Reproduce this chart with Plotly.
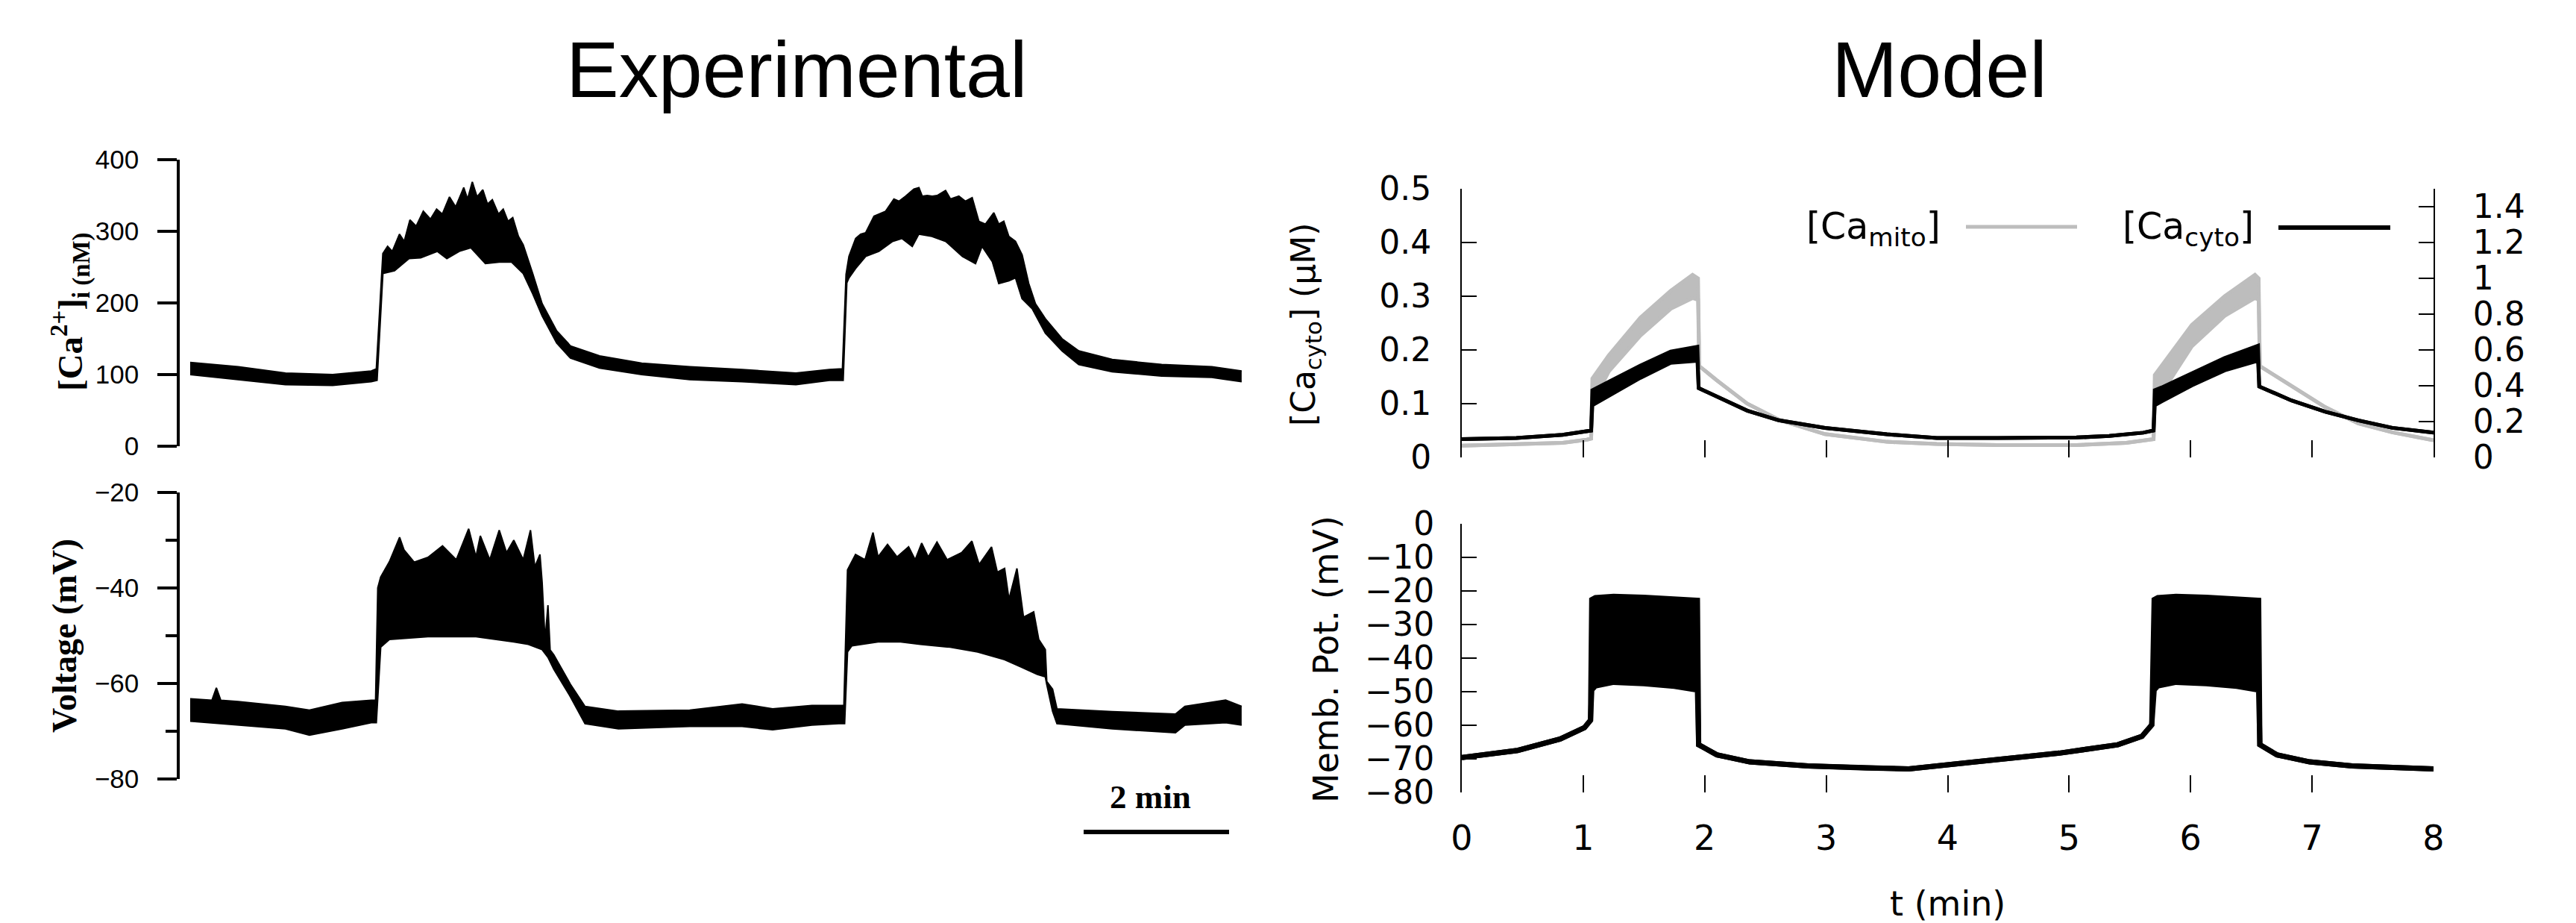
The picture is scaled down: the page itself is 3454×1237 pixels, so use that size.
import plotly.graph_objects as go

W, H = 3454, 1237

# ---------------- Experimental data (time in min) ----------------
ce_t_up = [0, 0.66, 1.31, 1.96, 2.49, 2.56,
           2.65, 2.715, 2.78, 2.878, 2.944, 3.022, 3.108, 3.206, 3.304, 3.389, 3.468, 3.566, 3.651, 3.762, 3.815,
           3.88, 3.945, 4.024, 4.089, 4.155, 4.24, 4.305, 4.371, 4.436, 4.514, 4.58,
           4.71, 4.84, 5.04, 5.23, 5.63, 6.21, 6.87, 7.59, 8.33, 8.79, 8.97, 9.02,
           9.06, 9.152, 9.22, 9.289, 9.404, 9.472, 9.564, 9.678, 9.747, 9.838, 9.953, 10.022, 10.067, 10.136,
           10.205, 10.273, 10.388, 10.456, 10.571, 10.662, 10.754, 10.846, 10.937, 11.052, 11.12, 11.189, 11.258,
           11.349, 11.441, 11.532, 11.624,
           11.76, 11.99, 12.22, 12.68, 13.36, 14.05, 14.46]
ce_up = [117, 111, 102, 100, 105, 108,
         269, 279, 272, 296, 286, 316, 307, 328, 317, 331, 324, 348, 334, 361, 345, 369, 348, 358, 338, 344, 324,
         331, 314, 319, 293, 281,
         241, 199, 161, 140, 126, 116, 111, 107, 102, 107, 108, 240,
         265, 290, 296, 298, 321, 324, 328, 345, 342, 349, 359, 361, 349, 350, 349, 350, 357, 345, 349, 342, 347,
         314, 310, 326, 310, 314, 293, 286, 267, 227, 199,
         178, 150, 133, 121, 114, 111, 105]
ce_t_lo = [0, 0.66, 1.31, 1.96, 2.49, 2.57,
           2.65, 2.81, 3.01, 3.17, 3.40, 3.53, 3.70, 3.86, 4.06, 4.25, 4.42, 4.58,
           4.71, 4.84, 5.04, 5.23, 5.63, 6.21, 6.87, 7.59, 8.33, 8.79, 8.98, 9.03,
           9.06, 9.15, 9.29, 9.47, 9.66, 9.79, 9.93, 10.02, 10.20, 10.39, 10.62, 10.80, 10.89, 11.03, 11.12, 11.26,
           11.35, 11.44, 11.58,
           11.76, 11.99, 12.22, 12.68, 13.36, 14.05, 14.46]
ce_lo = [100, 93, 86, 85, 90, 92,
         241, 245, 262, 263, 272, 262, 272, 277, 255, 257, 257, 241,
         213, 182, 144, 123, 109, 100, 93, 90, 86, 92, 92, 228,
         235, 248, 265, 272, 286, 290, 279, 296, 293, 286, 265, 255, 279, 258, 227, 231, 235, 206, 192,
         158, 133, 114, 104, 98, 96, 90]

ve_t_up = [0, 0.30, 0.36, 0.42, 0.66, 1.31, 1.64, 2.09, 2.49, 2.55, 2.58, 2.62, 2.74, 2.88, 2.94, 3.08, 3.27, 3.47,
           3.66, 3.83, 3.93, 3.99, 4.12, 4.25, 4.35, 4.45, 4.58, 4.68, 4.74, 4.81, 4.84, 4.88, 4.92, 4.95, 5.0, 5.23,
           5.43, 5.89, 6.87, 7.59, 8.01, 8.55, 8.92, 8.99, 9.04, 9.15, 9.28, 9.39, 9.46, 9.59, 9.72, 9.88, 9.97,
           10.06, 10.15, 10.27, 10.41, 10.61, 10.75, 10.85, 11.02, 11.10, 11.20, 11.26, 11.37, 11.46, 11.60, 11.67,
           11.76, 11.78, 11.86, 11.92, 12.68, 13.55, 13.68, 14.24, 14.46]
ve_up = [-63.2, -63.5, -60.9, -63.5, -63.8, -64.8, -65.6, -64.0, -63.5, -63.5, -40.0, -37.7, -34.5, -29.4, -32.0,
         -34.6, -33.6, -31.2, -34.1, -27.6, -33.5, -29.1, -34.1, -27.9, -32.6, -30.0, -34.1, -27.9, -35.6, -33.0,
         -38.8, -51.0, -43.6, -53.0, -54.0, -60.2, -64.8, -65.8, -65.6, -64.3, -65.3, -64.6, -64.6, -64.6, -36.2,
         -33.0, -34.1, -28.4, -33.5, -30.9, -33.5, -31.4, -34.1, -30.6, -33.5, -30.4, -34.1, -32.6, -30.2, -35.1,
         -31.4, -36.7, -35.9, -42.4, -35.9, -46.1, -45.0, -50.8, -52.9, -59.6, -61.2, -65.3, -65.9, -66.4, -64.8,
         -63.5, -64.8]
ve_t_lo = [0, 0.66, 1.31, 1.64, 2.09, 2.49, 2.56, 2.62, 2.74, 3.27, 3.93, 4.45, 4.65, 4.84, 4.92, 5.0, 5.23, 5.43,
           5.89, 6.87, 7.59, 8.01, 8.55, 8.92, 9.00, 9.04, 9.10, 9.46, 9.77, 10.04, 10.45, 10.83, 11.20, 11.42, 11.65,
           11.76, 11.78, 11.86, 11.92, 12.68, 13.55, 13.68, 14.24, 14.46]
ve_lo = [-67.9, -68.7, -69.5, -70.8, -69.5, -68.2, -68.2, -52.4, -50.8, -50.2, -50.2, -51.3, -51.8, -52.9, -54.5,
         -57.0, -62.8, -68.4, -69.5, -69.0, -69.0, -69.7, -68.7, -68.4, -68.4, -53.4, -52.1, -51.3, -51.3, -51.8,
         -52.4, -53.4, -55.0, -56.5, -58.1, -58.6, -60.2, -65.8, -68.4, -69.5, -70.3, -68.7, -68.2, -68.7]

# ---------------- Model data (t in min) ----------------
cy_t = [0, 0.45, 0.83, 1.03, 1.065, 1.075, 1.21, 1.47, 1.72, 1.94, 1.95, 2.10, 2.35, 2.61, 2.99, 3.50, 3.91, 4.41,
        5.06, 5.33, 5.61, 5.695, 5.705, 5.76, 6.01, 6.28, 6.555, 6.565, 6.83, 7.11, 7.38, 7.66, 8.0]
cy_up = [0.034, 0.036, 0.042, 0.048, 0.050, 0.125, 0.141, 0.171, 0.197, 0.206, 0.129, 0.113, 0.087, 0.069, 0.055,
         0.043, 0.036, 0.036, 0.037, 0.040, 0.046, 0.050, 0.125, 0.130, 0.157, 0.185, 0.208, 0.132, 0.106, 0.085,
         0.069, 0.055, 0.046]
cy_lo = [0.034, 0.036, 0.042, 0.048, 0.050, 0.097, 0.115, 0.148, 0.176, 0.180, 0.129, 0.113, 0.087, 0.069, 0.055,
         0.043, 0.036, 0.036, 0.037, 0.040, 0.046, 0.050, 0.097, 0.104, 0.134, 0.162, 0.180, 0.132, 0.106, 0.085,
         0.069, 0.055, 0.046]

mi_t = [0, 0.45, 0.83, 1.03, 1.065, 1.075, 1.21, 1.47, 1.72, 1.90, 1.945, 1.955, 2.10, 2.35, 2.61, 2.99, 3.50, 3.91,
        4.41, 5.06, 5.47, 5.695, 5.705, 6.01, 6.28, 6.53, 6.56, 6.57, 6.83, 7.11, 7.38, 7.66, 8.0]
mi_up = [0.066, 0.072, 0.081, 0.099, 0.105, 0.44, 0.57, 0.78, 0.93, 1.02, 1.00, 0.51, 0.43, 0.30, 0.21, 0.13, 0.087,
         0.075, 0.069, 0.069, 0.081, 0.102, 0.46, 0.74, 0.90, 1.02, 1.00, 0.51, 0.40, 0.28, 0.19, 0.14, 0.096]
mi_lo = [0.066, 0.072, 0.081, 0.099, 0.105, 0.30, 0.48, 0.68, 0.83, 0.89, 0.88, 0.51, 0.43, 0.30, 0.21, 0.13, 0.087,
         0.075, 0.069, 0.069, 0.081, 0.102, 0.30, 0.62, 0.79, 0.89, 0.88, 0.51, 0.40, 0.28, 0.19, 0.14, 0.096]

vm_t = [0, 0.46, 0.81, 1.01, 1.06, 1.07, 1.10, 1.25, 1.50, 1.75, 1.94, 1.95, 2.10, 2.37, 2.85, 3.33, 3.68, 4.23,
        4.92, 5.40, 5.60, 5.68, 5.70, 5.73, 5.88, 6.13, 6.38, 6.56, 6.57, 6.71, 6.98, 7.33, 8.0]
vm_up = [-69.6, -67.5, -64.1, -60.7, -58.5, -22.6, -22.0, -21.6, -21.9, -22.2, -22.8, -65.8, -68.8, -70.9, -72.1,
         -72.7, -73.0, -70.9, -68.3, -65.8, -63.3, -59.9, -22.6, -22.0, -21.6, -21.9, -22.2, -22.8, -65.8, -68.8,
         -70.9, -72.1, -73.0]
vm_lo = [-69.6, -67.5, -64.1, -60.7, -58.5, -49.5, -48.3, -47.2, -47.6, -48.4, -49.5, -65.8, -68.8, -70.9, -72.1,
         -72.7, -73.0, -70.9, -68.3, -65.8, -63.3, -59.9, -49.5, -48.3, -47.2, -47.6, -48.4, -49.5, -65.8, -68.8,
         -70.9, -72.1, -73.0]

exp_ca_ticks = [0, 100, 200, 300, 400]
exp_v_ticks = [-80, -60, -40, -20]
mod_t_ticks = [0, 1, 2, 3, 4, 5, 6, 7, 8]
mod_cyto_ticks = [0, 0.1, 0.2, 0.3, 0.4, 0.5]
mod_mito_ticks = [0, 0.2, 0.4, 0.6, 0.8, 1.0, 1.2, 1.4]
mod_mito_labels = ["0", "0.2", "0.4", "0.6", "0.8", "1", "1.2", "1.4"]
mod_v_ticks = [-80, -70, -60, -50, -40, -30, -20, -10, 0]

BLACK = "#000000"
GREY = "#bdbdbd"
ARIAL = "Liberation Sans, Arial, sans-serif"
TIMES = "Liberation Serif, Times New Roman, serif"
DEJA = "DejaVu Sans, sans-serif"


def px_x(p):
    return p / W


def px_y(p):
    return 1 - p / H


fig = go.Figure()


def band(t_lo, lo, t_up, up, xa, ya, color, w):
    fig.add_trace(go.Scatter(x=t_lo, y=lo, xaxis=xa, yaxis=ya, mode="lines",
                             line=dict(color=color, width=w), hoverinfo="skip"))
    fig.add_trace(go.Scatter(x=t_up, y=up, xaxis=xa, yaxis=ya, mode="lines", fill="tonexty",
                             fillcolor=color, line=dict(color=color, width=w), hoverinfo="skip"))


band(ce_t_lo, ce_lo, ce_t_up, ce_up, "x", "y", BLACK, 2)
band(ve_t_lo, ve_lo, ve_t_up, ve_up, "x3", "y3", BLACK, 2)
band(mi_t, mi_lo, mi_t, mi_up, "x2", "y2", GREY, 5)
band(cy_t, cy_lo, cy_t, cy_up, "x2", "y4", BLACK, 5)
band(vm_t, vm_lo, vm_t, vm_up, "x4", "y5", BLACK, 7)

exp_xdom = [px_x(241), px_x(1700)]
exp_xrange = [(241 - 255) / 97.5, (1700 - 255) / 97.5]
mod_xdom = [px_x(1960), px_x(3263)]

exp_y_common = dict(showline=True, linewidth=3.5, linecolor=BLACK, ticks="outside", ticklen=26, tickwidth=3.5,
                    tickcolor=BLACK, showgrid=False, zeroline=False, ticklabelstandoff=18, automargin=False,
                    tickfont=dict(family=ARIAL, size=35, color=BLACK))
mod_y_common = dict(showline=True, linewidth=2, linecolor=BLACK, ticks="inside", ticklen=20, tickwidth=2,
                    tickcolor=BLACK, showgrid=False, zeroline=False, automargin=False,
                    tickfont=dict(family=DEJA, size=44, color=BLACK))

fig.update_layout(
    template="none",
    width=W, height=H, autosize=False,
    margin=dict(l=0, r=0, t=0, b=0, pad=0, autoexpand=False),
    paper_bgcolor="white", plot_bgcolor="white", showlegend=False,
    xaxis=dict(domain=exp_xdom, range=exp_xrange, visible=False, anchor="y", automargin=False),
    yaxis=dict(domain=[px_y(598), px_y(214)], range=[0, 400], tickvals=exp_ca_ticks, anchor="x",
               **exp_y_common),
    xaxis3=dict(domain=exp_xdom, range=exp_xrange, visible=False, anchor="y3", automargin=False),
    yaxis3=dict(domain=[px_y(1044), px_y(660)], range=[-80, -20], tickvals=exp_v_ticks, anchor="x3",
                minor=dict(ticks="outside", ticklen=15, tickwidth=3.5, tickcolor=BLACK, dtick=10, tick0=-80),
                **exp_y_common),
    xaxis2=dict(domain=mod_xdom, range=[0, 8], anchor="y2", showline=False, ticks="inside", ticklen=23,
                tickwidth=2, tickcolor=BLACK, tickvals=mod_t_ticks, showticklabels=False, showgrid=False,
                zeroline=False, automargin=False),
    yaxis2=dict(domain=[px_y(613), px_y(253)], range=[0, 1.5], side="right", anchor="x2",
                tickvals=mod_mito_ticks, ticktext=mod_mito_labels, ticklabelstandoff=42, **mod_y_common),
    yaxis4=dict(range=[0, 0.5], overlaying="y2", side="left", anchor="x2", tickvals=mod_cyto_ticks,
                ticklabelstandoff=30, **mod_y_common),
    xaxis4=dict(domain=mod_xdom, range=[0, 8], anchor="y5", showline=False, ticks="inside", ticklen=23,
                tickwidth=2, tickcolor=BLACK, tickvals=mod_t_ticks, showgrid=False, zeroline=False,
                ticklabelstandoff=30, automargin=False, tickfont=dict(family=DEJA, size=46, color=BLACK)),
    yaxis5=dict(domain=[px_y(1062), px_y(702)], range=[-80, 0], anchor="x4", tickvals=mod_v_ticks,
                ticklabelstandoff=26, **mod_y_common),
)

ann = []


def add_text(text, xp, yp, font, size, angle=0, xanchor="center", yanchor="middle"):
    ann.append(dict(text=text, x=px_x(xp), y=px_y(yp), xref="paper", yref="paper", showarrow=False,
                    textangle=angle, xanchor=xanchor, yanchor=yanchor,
                    font=dict(family=font, size=size, color=BLACK)))


add_text("Experimental", 1068, 93, ARIAL, 106)
add_text("Model", 2600, 93, ARIAL, 106)
add_text("<b>[Ca<sup>2+</sup>]<sub>i (nM)</sub></b>", 94, 418, TIMES, 47, angle=-90)
add_text("<b>Voltage (mV)</b>", 87, 852, TIMES, 46, angle=-90)
add_text("<b>2 min</b>", 1542, 1068, TIMES, 45)
add_text("[Ca<sub>cyto</sub>] (μM)", 1750, 435, DEJA, 44, angle=-90)
add_text("Memb. Pot. (mV)", 1778, 884, DEJA, 46, angle=-90)
add_text("t (min)", 2611, 1211, DEJA, 46)
add_text("[Ca<sub>mito</sub>]", 2604, 306, DEJA, 49, xanchor="right")
add_text("[Ca<sub>cyto</sub>]", 3024, 306, DEJA, 49, xanchor="right")
fig.update_layout(annotations=ann)

shapes = [
    dict(type="line", xref="paper", yref="paper", x0=px_x(2636), x1=px_x(2785), y0=px_y(304), y1=px_y(304),
         line=dict(color=GREY, width=5)),
    dict(type="line", xref="paper", yref="paper", x0=px_x(3055), x1=px_x(3205), y0=px_y(305), y1=px_y(305),
         line=dict(color=BLACK, width=6)),
    dict(type="line", xref="x3", yref="paper", x0=12.287, x1=14.287, y0=px_y(1115), y1=px_y(1115),
         line=dict(color=BLACK, width=6)),
]
fig.update_layout(shapes=shapes)

fig.write_html("out.html", config={"displayModeBar": False},
               post_script="document.body.style.margin='0';")
